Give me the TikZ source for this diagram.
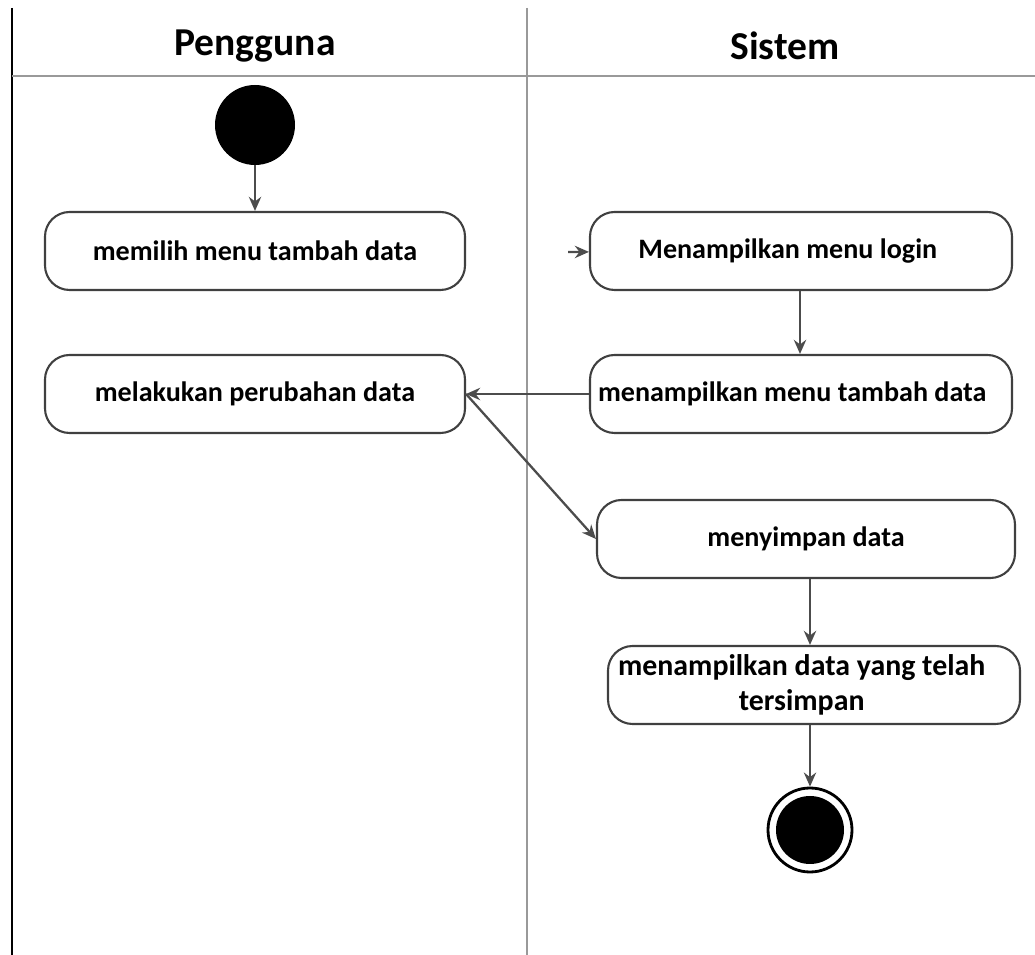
\documentclass[tikz,border=0pt]{standalone}
\usepackage{fontspec}
\setmainfont{Carlito}
\usetikzlibrary{arrows.meta}
\begin{document}
\begin{tikzpicture}[x=0.02cm,y=-0.02cm,
  act/.style={draw=black!75,line width=1.2pt,rounded corners=14pt,minimum width=#1*0.02cm,minimum height=78*0.02cm,align=center,font=\fontsize{16}{20}\selectfont\bfseries,inner sep=2pt},
  act/.default=420,
  flow/.style={draw=black!70,line width=1.3pt,-{Stealth[length=8pt,width=7pt]}},
  lane/.style={draw=black!40,line width=1pt},
  hdr/.style={font=\fontsize{22.5}{26}\selectfont\bfseries}]
\useasboundingbox (0,0) rectangle (1035,955);
% swimlanes
\draw[black,line width=1.6pt] (12,8) -- (12,955);
\draw[lane] (527,8) -- (527,955);
\draw[lane] (12,76) -- (1035,76);
\node[hdr] (hp) at (255,46) {Pengguna};
\node[hdr] (hs) at (785,46) {Sistem};
% nodes
\node[circle,fill=black,minimum size=80*0.02cm,inner sep=0pt] (start) at (255,125) {};
\node[act] (memilih) at (255,251) {memilih menu tambah data};
\node[act=422] (login) at (801,251) {Menampilkan menu login\hspace*{15pt}};
\node[act=422] (tambah) at (801,394) {menampilkan menu tambah data\hspace*{10pt}};
\node[act] (ubah) at (255,394) {melakukan perubahan data};
\node[act=418] (simpan) at (806,539) {menyimpan data};
\node[act=412,font=\fontsize{17}{20}\selectfont\bfseries] (tersimpan) at (814,685) {menampilkan data yang telah\hspace*{14pt}\\tersimpan\hspace*{14pt}};
\node[circle,draw=black,line width=1.6pt,minimum size=84*0.02cm,inner sep=0pt] (end) at (810,830) {};
\node[circle,fill=black,minimum size=68*0.02cm,inner sep=0pt] (endin) at (810,830) {};
\coordinate (in) at (568,252);
% connectors
\draw[flow] (start) -- (memilih);
\draw[flow] (in) -- (login);
\draw[flow] (login.south -| 800,0) -- (tambah.north -| 800,0);
\draw[flow] (tambah) -- (ubah);
\draw[flow] (ubah.east) -- (simpan.west);
\draw[flow] (simpan.south -| end) -- (tersimpan.north -| end);
\draw[flow] (tersimpan.south -| end) -- (end);
\end{tikzpicture}
\end{document}
